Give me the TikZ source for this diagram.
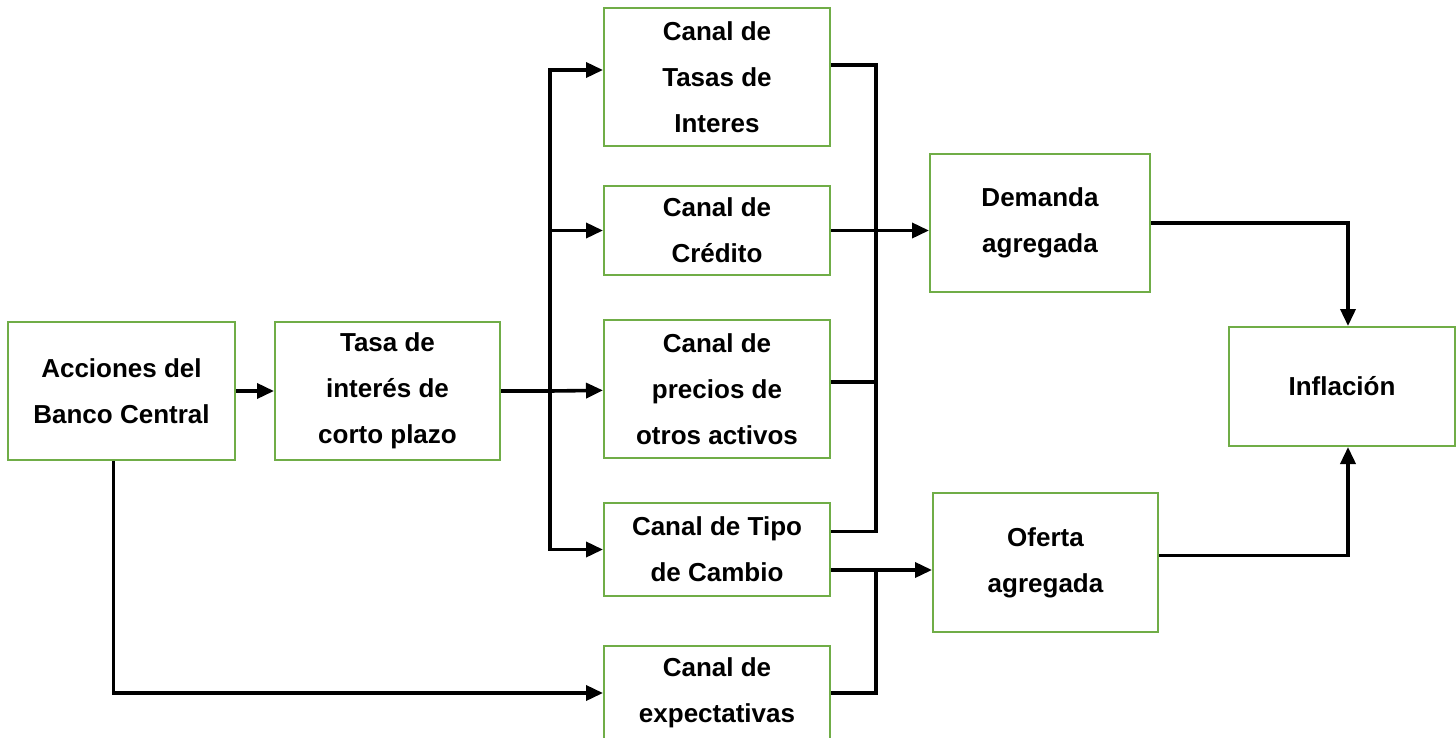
\documentclass[tikz,border=0pt]{standalone}
\usepackage{fontspec}
\setmainfont{Liberation Sans}
\usetikzlibrary{arrows.meta,positioning}
\definecolor{boxgreen}{RGB}{112,173,71}

\begin{document}
\begin{tikzpicture}[x=0.5pt,y=-0.5pt,
  box/.style={draw=boxgreen, line width=1pt, align=center, inner sep=0pt,
              font=\fontsize{13}{23}\selectfont\bfseries},
  line/.style={line width=1.8pt},
  arr/.style={line width=1.8pt, -{Triangle[length=8.5pt,width=7.5pt]}}
]
\useasboundingbox (0,0) rectangle (1456,738);
% boxes
\node[box, minimum width=113.5pt, minimum height=69pt] (acc) at (121.5,391)
  {Acciones del\\Banco Central};
\node[box, minimum width=112.5pt, minimum height=69pt] (tasa) at (387.5,391)
  {Tasa de\\interés de\\corto plazo};
\node[box, minimum width=113pt, minimum height=69pt] (c1) at (717,77)
  {Canal de\\Tasas de\\Interes};
\node[box, minimum width=113pt, minimum height=44.5pt] (c2) at (717,230.5)
  {Canal de\\Crédito};
\node[box, minimum width=113pt, minimum height=69pt] (c3) at (717,389)
  {Canal de\\precios de\\otros activos};
\node[box, minimum width=113pt, minimum height=46.5pt] (c4) at (717,549.5)
  {Canal de Tipo\\de Cambio};
\node[box, minimum width=113pt, minimum height=47pt] (c5) at (717,693)
  {Canal de\\expectativas};
\node[box, minimum width=110pt, minimum height=69pt] (dem) at (1040,223)
  {Demanda\\agregada};
\node[box, minimum width=112.5pt, minimum height=69.5pt] (ofe) at (1045.5,562.5)
  {Oferta\\agregada};
\node[box, minimum width=113pt, minimum height=59.5pt] (inf) at (1342,386.5)
  {Inflación};
% junctions
\coordinate (lb) at (550,391);
\coordinate (rb) at (876,230);
\coordinate (ob) at (876,570);
% connectors
\draw[arr] (acc) -- (tasa);
\draw[line] (tasa) -- (lb);
\draw[arr] (lb) |- ([yshift=3.5pt]c1.west);
\draw[arr] (lb) |- (c2);
\draw[arr] (lb) -- (c3);
\draw[arr] (lb) |- (c4);
\draw[line] ([yshift=6pt]c1.east) -| (rb);
\draw[line] ([yshift=3.5pt]c3.east) -| (rb);
\draw[line] ([yshift=9pt]c4.east) -| (rb);
\draw[arr] (c2) -- (c2 -| dem.west);
\draw[line] (ob -| c4.east) -- (ob);
\draw[line] (c5) -| (ob);
\draw[arr] (ob) -- (ob -| ofe.west);
\draw[arr] ([xshift=-4pt]acc.south) |- (c5);
\draw[arr] (dem) -| ([xshift=3pt]inf.north);
\draw[arr] ([yshift=3.5pt]ofe.east) -| ([xshift=3pt]inf.south);
\end{tikzpicture}
\end{document}
